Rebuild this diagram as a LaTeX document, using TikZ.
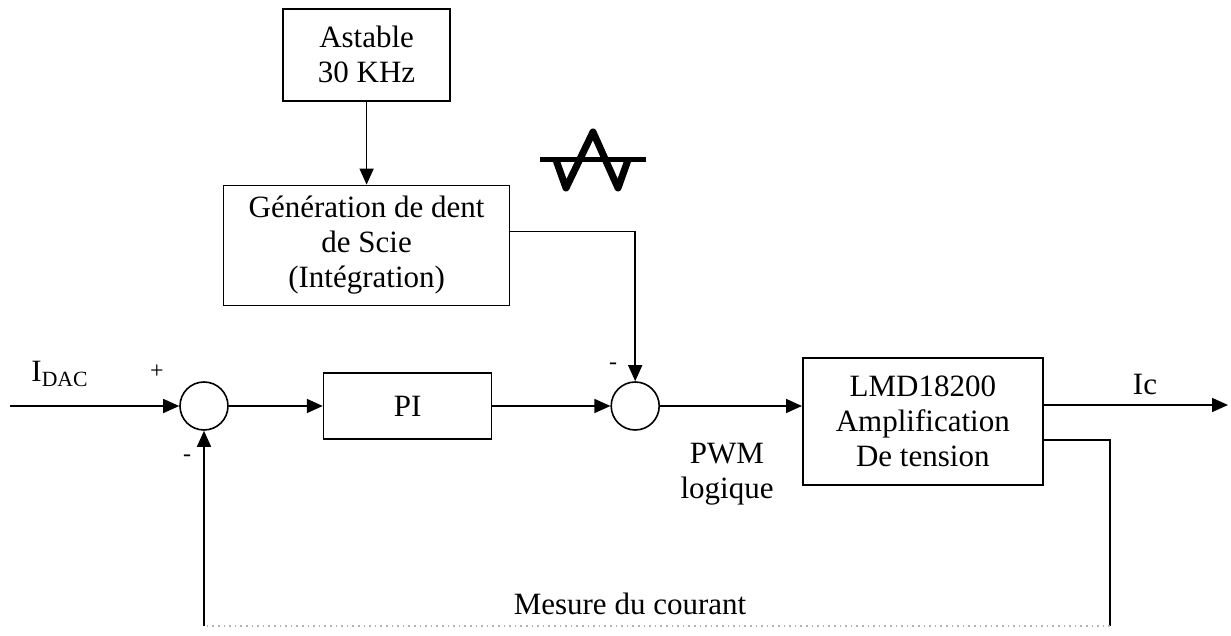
\documentclass[tikz,border=0pt]{standalone}
\usepackage{fontspec}
\setmainfont{Liberation Serif}
\usetikzlibrary{positioning,arrows.meta,calc}

\begin{document}
\begin{tikzpicture}[x=1pt, y=1pt,
                every node/.style={font=\fontsize{15.5}{17.5}\selectfont},
                block/.style={draw, line width=0.8pt, align=center, inner sep=0pt},
                sumnode/.style={draw, circle, line width=0.8pt, minimum size=24pt, inner sep=0pt},
                sig/.style={line width=0.8pt, -{Triangle[length=8pt,width=7pt]}},
                wire/.style={line width=0.8pt},
                sign/.style={font=\fontsize{12}{12}\selectfont, inner sep=0pt}
              ]
              \useasboundingbox (0,0) rectangle (615.5,318);
              \node [sumnode] (s1) at (102,115) {};
              \node [block, minimum width=84pt, minimum height=33pt, right=47pt of s1] (pi) {PI};
              \node [sumnode, right=59pt of pi] (s2) {};
              \node [block, minimum width=120pt, minimum height=63.5pt, right=71pt of s2, yshift=-7.75pt] (lmd) {LMD18200\\Amplification\\De tension};
              \node [block, minimum width=143pt, minimum height=60pt, above=33pt of pi, xshift=-20.5pt] (gen) {Génération de dent\\de Scie\\(Intégration)};
              \node [block, minimum width=83.5pt, minimum height=46pt, above=41.5pt of gen] (ast) {Astable\\30 KHz};
              \coordinate (in) at (5,115);
              \coordinate (icend) at (614,115.5);
              \coordinate (fb) at (555,98);
              \coordinate (bot) at (0,5);
              \coordinate (tap) at ($(gen.east)+(0,7)$);
              \draw [sig] (in) -- (s1);
              \draw [sig] (s1) -- (pi);
              \draw [sig] (pi) -- (s2);
              \draw [sig] (s2) -- (lmd.west |- s2);
              \draw [sig] (lmd.east |- icend) -- (icend);
              \draw [sig] (ast) -- (gen);
              \draw [sig] (tap) -| (s2.north);
              % retour de la mesure
              \draw [wire] (lmd.east |- fb) -- (fb) -- (fb |- bot);
              \draw [wire, gray!60, dotted] (fb |- bot) -- (s1 |- bot);
              \draw [sig] (s1 |- bot) -- (s1.south);
              \draw [line width=2.5pt] (270,238) -- (323,238);
              \draw [line width=3.5pt, line join=round] (278,238) -- (283,224) -- (296.5,252) -- (309,224) -- (314,238);
              \node (idac) at (30,131) {I\textsubscript{DAC}};
              \node [sign] (p1) at (78.5,132) {+};
              \node [sign] (m1) at (93.5,89) {-};
              \node [sign] (m2) at (306.5,135) {-};
              \node [align=center] (pwm) at (363.5,81) {PWM\\logique};
              \node (ic) at (572.5,125.5) {Ic};
              \node (mes) at (315,16) {Mesure du courant};
\end{tikzpicture}
\end{document}
